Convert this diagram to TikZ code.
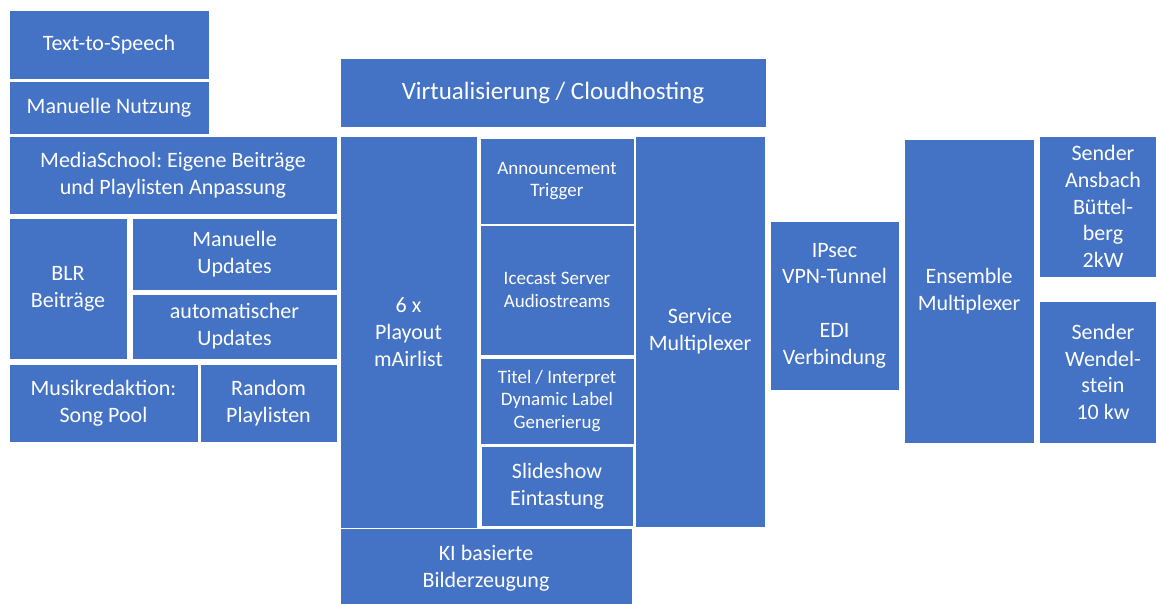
\documentclass[tikz,border=0pt]{standalone}
\usepackage{fontspec}
\setmainfont{Carlito}
\frenchspacing
\definecolor{blockblue}{HTML}{4472C4}
\tikzset{
  blk/.style={fill=blockblue, draw=white, line width=0.8pt, text=white,
    align=center, inner sep=0pt, outer sep=0pt, anchor=north west,
    font=\fontsize{22}{26.8}\selectfont},
  small/.style={font=\fontsize{19}{22.8}\selectfont},
  big/.style={font=\fontsize{25}{30}\selectfont}
}
% \blockat{name}{x}{y}{width}{height}{extra options}{text}  (pixels, y downwards)
\newcommand\blockat[7]{%
  \node[blk, minimum width=#4pt, minimum height=#5pt, #6] (#1) at (#2pt,-#3pt) {#7};}
\begin{document}
\begin{tikzpicture}
\clip (0,0) rectangle (1156pt,-603pt);
\useasboundingbox (0,0) rectangle (1156pt,-603pt);
% content sources
\blockat{tts}{9}{10}{200}{69}{}{Text-to-Speech}
\blockat{mannutz}{9}{81}{200}{53}{}{Manuelle Nutzung}
\blockat{media}{9}{136}{328}{78}{}{MediaSchool: Eigene Beiträge\\und Playlisten Anpassung}
\blockat{blr}{9}{218}{118}{141}{}{BLR\\Beiträge}
\blockat{manupd}{132}{218}{205}{72}{}{Manuelle\\Updates}
\blockat{autoupd}{132}{294}{205}{65}{}{automatischer\\Updates}
\blockat{musik}{9}{364}{189}{78}{}{Musikredaktion:\\Song Pool}
\blockat{random}{200}{364}{137}{78}{}{Random\\Playlisten}
% hosting and playout
\blockat{virt}{340}{58}{426}{69}{big}{Virtualisierung / Cloudhosting}
\blockat{playout}{340}{136}{137}{392}{}{6 x\\Playout\\mAirlist}
\blockat{announce}{480}{138}{154}{86}{small}{Announcement\\Trigger}
\blockat{icecast}{480}{225}{154}{130}{small}{Icecast Server\\Audiostreams}
\blockat{titel}{480}{358}{154}{86}{small}{Titel / Interpret\\Dynamic Label\\Generierug}
\blockat{slide}{481}{446}{152}{80}{}{Slideshow\\Eintastung}
\blockat{service}{635}{136}{130}{391}{}{Service\\Multiplexer}
\blockat{ki}{340}{528}{292}{80}{}{KI basierte\\Bilderzeugung}
% distribution
\blockat{ipsec}{770}{221}{129}{169}{}{IPsec\\VPN-Tunnel\\[26.8pt]EDI\\Verbindung}
\blockat{ensemble}{904}{139}{130}{304}{}{Ensemble\\Multiplexer}
\blockat{ansbach}{1039}{136}{128}{141}{}{Sender\\Ansbach\\Büttel-\\berg\\2kW}
\blockat{wendel}{1039}{301}{128}{142}{}{Sender\\Wendel-\\stein\\10 kw}
\end{tikzpicture}
\end{document}
